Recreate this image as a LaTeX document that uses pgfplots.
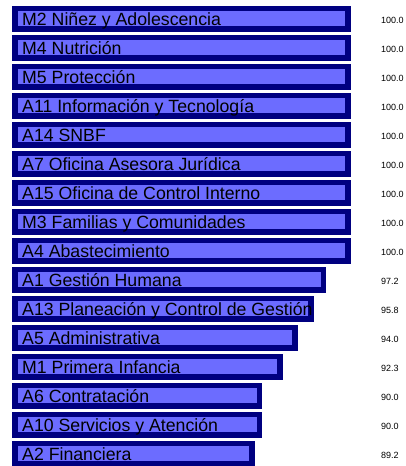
\documentclass[border=0pt]{standalone}
\usepackage{fontspec}
\setmainfont{Liberation Sans}
\usepackage{pgfplots}
\usepackage{pgfplotstable}
\pgfplotsset{compat=1.18}
\definecolor{barfill}{RGB}{108,108,255}
\definecolor{barline}{RGB}{0,0,128}
\pgfplotstableread[col sep=comma]{
i,v,name
0,100.0,M2 Niñez y Adolescencia
1,100.0,M4 Nutrición
2,100.0,M5 Protección
3,100.0,A11 Información y Tecnología
4,100.0,A14 SNBF
5,100.0,A7 Oficina Asesora Jurídica
6,100.0,A15 Oficina de Control Interno
7,100.0,M3 Familias y Comunidades
8,100.0,A4 Abastecimiento
9,97.2,A1 Gestión Humana
10,95.8,A13 Planeación y Control de Gestión
11,94.0,A5 Administrativa
12,92.3,M1 Primera Infancia
13,90.0,A6 Contratación
14,90.0,A10 Servicios y Atención
15,89.2,A2 Financiera
}\data
\begin{document}
\begin{tikzpicture}[x=1pt,y=1pt]
\begin{axis}[
  at={(0pt,0pt)}, anchor=south west,
  scale only axis, width=406pt, height=466pt,
  axis lines=none, clip=false,
  xmin=-1.66, xmax=44.02,
  ymin=-0.655, ymax=15.414, y dir=reverse,
  /pgf/number format/assume math mode=true,
]
\addplot[xbar, bar width=20.5pt, draw=barline, line width=5.5pt, fill=barfill]
  table[x expr=\thisrow{v}-62.48, y=i] {\data};
\addplot[draw=none, mark=none, nodes near coords, point meta=explicit symbolic,
  nodes near coords style={anchor=base west, inner sep=0pt, yshift=-7pt,
    font=\fontsize{17.7}{17.7}\selectfont, text=black}]
  table[x expr=0.82, y=i, meta=name] {\data};
\addplot[draw=none, mark=none, nodes near coords={\pgfmathprintnumber[fixed,fixed zerofill,precision=1,assume math mode=true]{\pgfplotspointmeta}},
  point meta=explicit,
  nodes near coords style={anchor=west, inner sep=0pt, yshift=-1pt,
    font=\fontsize{9}{9}\selectfont, text=black}]
  table[x expr=41.2, y=i, meta=v] {\data};
\end{axis}
\pgfresetboundingbox
\useasboundingbox (0,0) rectangle (406pt,466pt);
\end{tikzpicture}
\end{document}
